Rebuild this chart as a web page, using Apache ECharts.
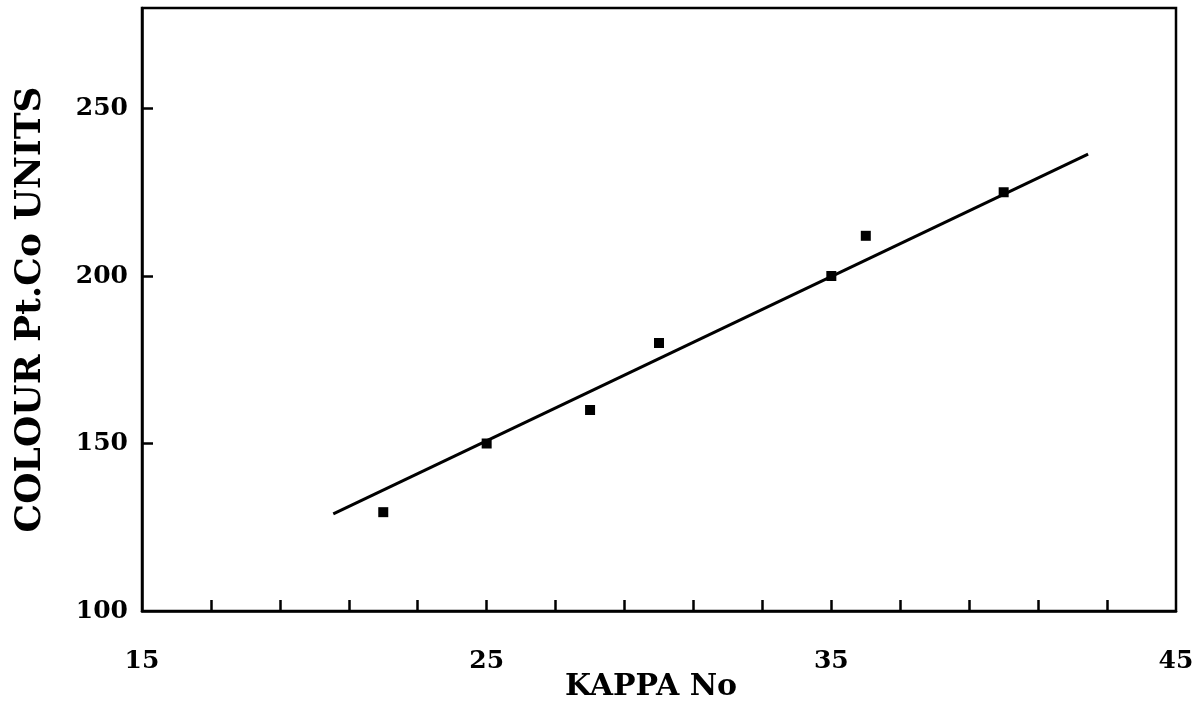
<!DOCTYPE html>
<html>
<head>
<meta charset="utf-8">
<script src="https://cdn.jsdelivr.net/npm/echarts@6/dist/echarts.min.js"></script>
<style>html,body{margin:0;padding:0;background:#fff}#c{width:1199px;height:706px}</style>
</head>
<body>
<div id="c"></div>
<script>
const kappa = [22, 25, 28, 30, 35, 36, 40];
const colour = [129.5, 150, 160, 180, 200, 212, 225];
const fitLine = [[20.55, 129], [42.45, 236.4]];
const xTickValues = [17, 19, 21, 23, 25, 27, 29, 31, 33, 35, 37, 39, 41, 43];
const xLabelValues = [15, 25, 35, 45];
const yTickValues = [150, 200, 250];
const yLabelValues = [100, 150, 200, 250];

const font = 'DejaVu Serif';
const chart = echarts.init(document.getElementById('c'));
chart.setOption({
  animation: false,
  backgroundColor: '#fff',
  grid: { left: 142, right: 23, top: 8, bottom: 95, show: true, borderColor: '#000', borderWidth: 2.5, containLabel: false, outerBoundsMode: 'none' },
  xAxis: {
    type: 'value', min: 15, max: 45,
    name: 'KAPPA No', nameLocation: 'middle', nameGap: 61, nameMoveOverlap: false,
    nameTextStyle: { fontFamily: font, fontSize: 30, fontWeight: 'bold', color: '#000', padding: [0, 16, 0, 0] },
    axisLine: { show: true, onZero: false, lineStyle: { color: '#000', width: 2.5 } },
    axisTick: { show: true, inside: true, length: 11, customValues: xTickValues, lineStyle: { color: '#000', width: 2.5 } },
    axisLabel: { customValues: xLabelValues, margin: 38, fontFamily: font, fontSize: 25, fontWeight: 'bold', color: '#000' },
    splitLine: { show: false }
  },
  yAxis: {
    type: 'value', min: 100, max: 280,
    name: 'COLOUR Pt.Co UNITS', nameLocation: 'middle', nameGap: 93, nameMoveOverlap: false,
    nameTextStyle: { fontFamily: font, fontSize: 36, fontWeight: 'bold', color: '#000' },
    axisLine: { show: true, onZero: false, lineStyle: { color: '#000', width: 2.5 } },
    axisTick: { show: true, inside: true, length: 11, customValues: yTickValues, lineStyle: { color: '#000', width: 2.5 } },
    axisLabel: { customValues: yLabelValues, margin: 14, fontFamily: font, fontSize: 25, fontWeight: 'bold', color: '#000' },
    splitLine: { show: false }
  },
  series: [
    {
      type: 'line', data: fitLine, symbol: 'none',
      lineStyle: { color: '#000', width: 3 }, z: 2
    },
    {
      type: 'scatter', data: kappa.map((k, i) => [k, colour[i]]),
      symbol: 'rect', symbolSize: 10, itemStyle: { color: '#000', opacity: 1 }, z: 3
    }
  ]
});
</script>
</body>
</html>
